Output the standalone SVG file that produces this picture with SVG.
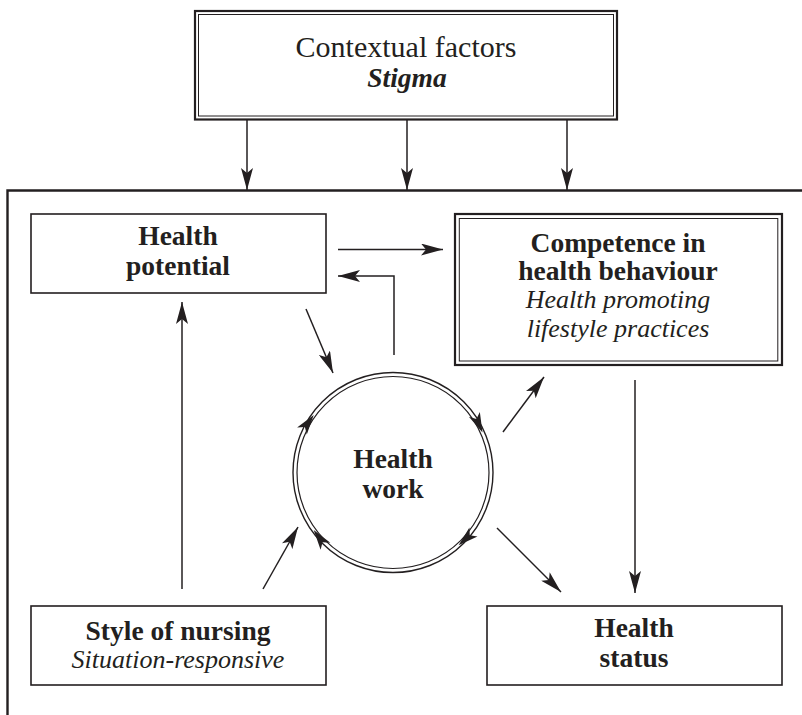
<svg xmlns="http://www.w3.org/2000/svg" width="802" height="715" viewBox="0 0 802 715">
<style>
text{font-family:"Liberation Serif","DejaVu Serif",serif;fill:#231f20;text-anchor:middle}
.b{font-weight:bold;font-size:27.5px}
.bi{font-weight:bold;font-style:italic;font-size:27.5px}
.i{font-style:italic;font-size:26px}
.box{fill:#fff;stroke:#231f20;stroke-width:1.6}
.thin{fill:none;stroke:#231f20;stroke-width:1}
.thick{fill:none;stroke:#231f20;stroke-width:2.2}
.con{fill:none;stroke:#231f20;stroke-width:1.5}
.ar{marker-end:url(#arr)}
</style>
<defs>
<marker id="arr" viewBox="0 0 22 12" refX="22" refY="6" markerWidth="22" markerHeight="12" markerUnits="userSpaceOnUse" orient="auto">
<path d="M0,0 L22,6 L0,12 L5,6 Z" fill="#231f20"/>
</marker>
<path id="ah" d="M0,0 L-20,-6 L-15,0 L-20,6 Z" fill="#231f20"/>
</defs>
<rect width="802" height="715" fill="#fff"/>

<g id="frame">
<path d="M802,190.5 H7.5 V715" fill="none" stroke="#231f20" stroke-width="2.4"/>
</g>

<g id="contextual">
<rect class="thick" x="195" y="11" width="422" height="108.5"/>
<rect class="thin" x="198.5" y="14.5" width="415" height="101.5"/>
<text x="406" y="57" style="font-size:30px">Contextual factors</text>
<text class="bi" x="407" y="87">Stigma</text>
</g>

<g id="health-potential">
<rect class="box" x="31" y="214" width="295" height="79"/>
<text class="b" x="178" y="245">Health</text>
<text class="b" x="178" y="275">potential</text>
</g>

<g id="competence">
<rect class="thick" x="455" y="214" width="327" height="151"/>
<rect class="thin" x="459.3" y="218.5" width="318.5" height="142.5"/>
<text class="b" x="618" y="252">Competence in</text>
<text class="b" x="618" y="280">health behaviour</text>
<text class="i" x="618" y="308">Health promoting</text>
<text class="i" x="618" y="337">lifestyle practices</text>
</g>

<g id="health-work">
<circle cx="393" cy="472.5" r="100" fill="none" stroke="#231f20" stroke-width="1.4"/>
<circle cx="393" cy="472.5" r="96" fill="none" stroke="#231f20" stroke-width="1.2"/>
<text class="b" x="393" y="468">Health</text>
<text class="b" x="393" y="498">work</text>
</g>

<g id="style-of-nursing">
<rect class="box" x="31" y="606" width="295" height="79"/>
<text class="b" x="178" y="640">Style of nursing</text>
<text class="i" x="178" y="668">Situation-responsive</text>
</g>

<g id="health-status">
<rect class="box" x="487" y="606" width="295" height="79"/>
<text class="b" x="634" y="637">Health</text>
<text class="b" x="634" y="667">status</text>
</g>

<g id="connectors">
<line class="con ar" x1="247" y1="120" x2="247" y2="190"/>
<line class="con ar" x1="407" y1="120" x2="407" y2="190"/>
<line class="con ar" x1="567" y1="120" x2="567" y2="190"/>
<line class="con ar" x1="338" y1="249.5" x2="443" y2="249.5"/>
<path class="con ar" d="M394,355 V276 H338"/>
<line class="con ar" x1="306" y1="309" x2="333" y2="373"/>
<line class="con ar" x1="182" y1="589" x2="182" y2="302"/>
<line class="con ar" x1="503" y1="432" x2="544" y2="377"/>
<line class="con ar" x1="635" y1="380" x2="635" y2="593"/>
<line class="con ar" x1="263" y1="589" x2="298" y2="527"/>
<line class="con ar" x1="497" y1="528" x2="561" y2="592"/>
<use href="#ah" transform="translate(313.7,414.9) rotate(306)"/>
<use href="#ah" transform="translate(482.5,432.6) rotate(66)"/>
<use href="#ah" transform="translate(458.6,545.3) rotate(138)"/>
<use href="#ah" transform="translate(313.7,530.1) rotate(234)"/>
</g>
</svg>
